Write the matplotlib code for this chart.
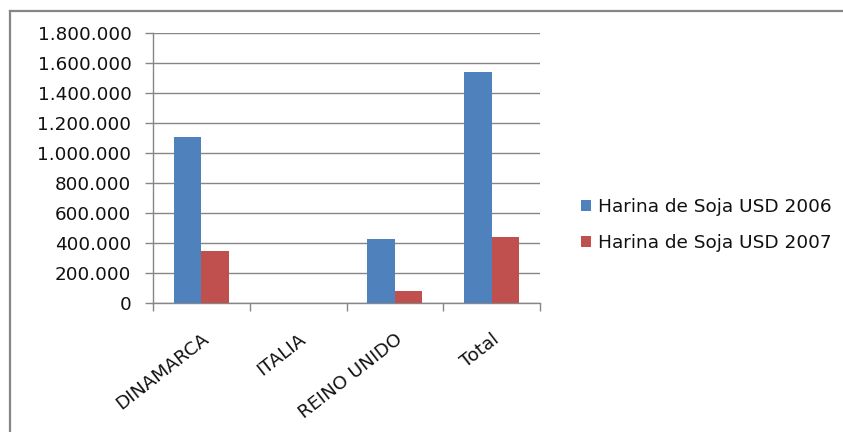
import matplotlib
matplotlib.use("Agg")
import numpy as np
import matplotlib.pyplot as plt
from matplotlib.lines import Line2D
from matplotlib.ticker import FuncFormatter, FixedLocator
from matplotlib.transforms import ScaledTranslation

paises = ["DINAMARCA", "ITALIA", "REINO UNIDO", "Total"]
usd_2006 = [1110000, 0, 430000, 1540000]
usd_2007 = [350000, 0, 85000, 440000]
series = ["Harina de Soja USD 2006", "Harina de Soja USD 2007"]

azul = "#4F81BD"
rojo = "#C0504D"
gris = "#868686"

plt.rcParams["font.family"] = ["DejaVu Sans"]

fig = plt.figure(figsize=(8.43, 4.32), dpi=100)
ax = fig.add_axes([0.1815, 0.2975, 0.4591, 0.625])

x = np.arange(len(paises))
w = 0.284
ax.bar(x - w / 2, usd_2006, width=w, color=azul, label=series[0], zorder=3)
ax.bar(x + w / 2, usd_2007, width=w, color=rojo, label=series[1], zorder=3)

ax.set_xlim(-0.5, len(paises) - 0.5)
ax.set_ylim(0, 1800000)
ax.set_yticks(np.arange(0, 1800001, 200000))
ax.yaxis.set_major_formatter(FuncFormatter(lambda v, p: f"{int(v):,}".replace(",", ".")))
ax.grid(axis="y", color=gris, linewidth=1, zorder=0)

# etiquetas en el centro, marcas entre categorias
ax.set_xticks(x)
ax.set_xticklabels(paises, rotation=38, ha="right", va="top", rotation_mode="anchor")
desplaza = ScaledTranslation(7 / 100, 0, fig.dpi_scale_trans)
for t in ax.get_xticklabels():
    t.set_transform(t.get_transform() + desplaza)
ax.xaxis.set_minor_locator(FixedLocator(np.arange(-0.5, len(paises), 1)))
ax.tick_params(axis="x", which="major", length=0, pad=19, labelsize=13.3, labelcolor="#111111")
ax.tick_params(axis="x", which="minor", length=6, color=gris, width=1)
ax.tick_params(axis="y", length=6, color=gris, width=1, pad=9.5, labelsize=13.2, labelcolor="#111111")

for s in ["top", "right"]:
    ax.spines[s].set_visible(False)
for s in ["left", "bottom"]:
    ax.spines[s].set_color(gris)
    ax.spines[s].set_linewidth(1)

fig.legend(loc="center left", bbox_to_anchor=(0.669, 0.479), frameon=False,
           fontsize=13.3, handlelength=0.55, handleheight=0.55, handletextpad=0.4,
           labelspacing=0.95, labelcolor="#111111")

# marco del grafico
fig.add_artist(Line2D([10 / 843, 10 / 843], [0, 1 - 11 / 432], color=gris, linewidth=1.6))
fig.add_artist(Line2D([10 / 843, 1], [1 - 11 / 432, 1 - 11 / 432], color=gris, linewidth=1.6))

fig.savefig("out.png", dpi=100)
